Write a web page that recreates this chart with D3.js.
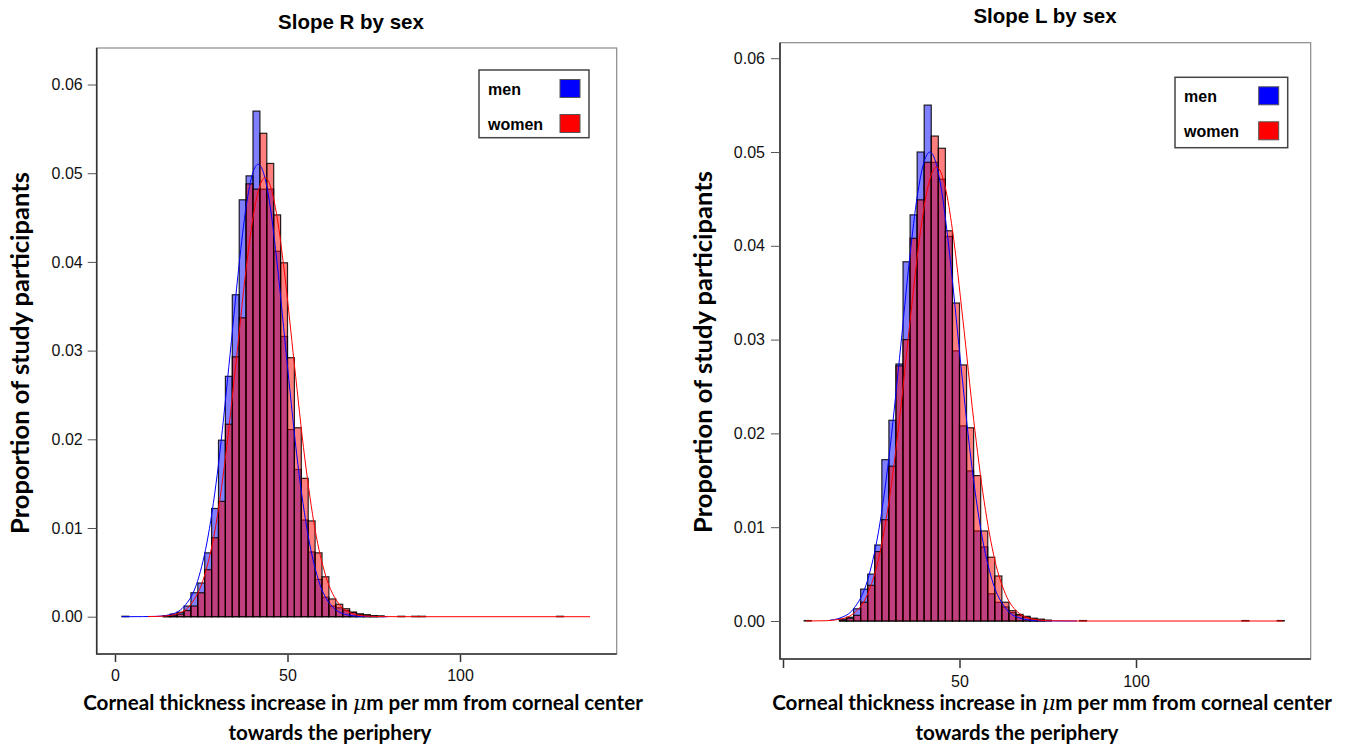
<!DOCTYPE html>
<html>
<head>
<meta charset="utf-8">
<script src="https://cdn.jsdelivr.net/npm/d3@7"></script>
<style>
  body { margin: 0; background: #fff; }
  svg { display: block; }
</style>
</head>
<body>
<div id="chart"></div>
<script>
// histogram bins are 2 units wide, values are proportions per bin
const binWidth = 2;

// Slope R (left panel)
const menRBins = [2, 14, 16, 18, 20, 22, 24, 26, 28, 30, 32, 34, 36, 38, 40, 42, 44, 46, 48, 50, 52, 54, 56, 58, 60, 62, 64, 66, 68, 70, 72, 74, 76];
const menR = [0.00005, 0.0001, 0.0003, 0.0005, 0.0012, 0.0027, 0.0038, 0.0072, 0.0122, 0.0199, 0.0271, 0.0363, 0.0470, 0.0497, 0.0570, 0.0482, 0.0482, 0.0412, 0.0316, 0.0211, 0.0166, 0.0109, 0.0073, 0.0042, 0.0022, 0.0012, 0.0010, 0.0007, 0.0005, 0.0003, 0.0002, 0.0001, 0.0001];
const womenRBins = [14, 16, 18, 20, 22, 24, 26, 28, 30, 32, 34, 36, 38, 40, 42, 44, 46, 48, 50, 52, 54, 56, 58, 60, 62, 64, 66, 68, 70, 72, 74, 82, 86, 88, 128];
const womenR = [0.00005, 0.0001, 0.0003, 0.0007, 0.0012, 0.0027, 0.0053, 0.0089, 0.0130, 0.0217, 0.0293, 0.0337, 0.0488, 0.0482, 0.0545, 0.0511, 0.0453, 0.0399, 0.0292, 0.0213, 0.0156, 0.0108, 0.0072, 0.0045, 0.0020, 0.0014, 0.0009, 0.0005, 0.0003, 0.0002, 0.0001, 0.00005, 0.00005, 0.00005, 0.00005];

// fitted curves
const menRCurveX = [2, 8, 12, 16, 20, 24, 27, 30, 33, 36, 38, 40, 41.5, 43, 45, 47, 50, 53, 56, 59, 63, 67, 71, 75, 79];
const menRCurveY = [0, 0.00001, 0.00004, 0.00024, 0.00114, 0.0041, 0.0091, 0.0172, 0.0282, 0.0398, 0.0462, 0.0501, 0.0510, 0.0501, 0.0462, 0.0398, 0.0282, 0.0172, 0.0091, 0.0041, 0.00114, 0.00024, 0.00004, 0.00001, 0];
const womenRCurveX = [9.6, 14, 18, 22, 26, 29, 32, 35, 38, 40, 42, 43.5, 45, 47, 49, 52, 55, 58, 61, 65, 69, 73, 78, 90, 137.7];
const womenRCurveY = [0.00001, 0.00006, 0.00033, 0.0014, 0.0047, 0.0098, 0.0179, 0.0284, 0.0392, 0.0450, 0.0486, 0.0495, 0.0486, 0.0450, 0.0392, 0.0284, 0.0179, 0.0098, 0.0047, 0.0014, 0.00033, 0.00006, 0.00001, 0, 0];

// Slope L (right panel)
const menLBins = [16, 18, 20, 22, 24, 26, 28, 30, 32, 34, 36, 38, 40, 42, 44, 46, 48, 50, 52, 54, 56, 58, 60, 62, 64, 66, 68, 70, 72, 84];
const menL = [0.0002, 0.0004, 0.0013, 0.0034, 0.0050, 0.0081, 0.0172, 0.0214, 0.0274, 0.0383, 0.0433, 0.0500, 0.0550, 0.0489, 0.0471, 0.0410, 0.0288, 0.0208, 0.0160, 0.0096, 0.0079, 0.0029, 0.0020, 0.0015, 0.0009, 0.0006, 0.0004, 0.0002, 0.0001, 0.00005];
const womenLBins = [6, 16, 18, 20, 22, 24, 26, 28, 30, 32, 34, 36, 38, 40, 42, 44, 46, 48, 50, 52, 54, 56, 58, 60, 62, 64, 66, 68, 70, 72, 74, 130, 140];
const womenL = [0.00005, 0.0001, 0.0003, 0.0006, 0.0020, 0.0038, 0.0074, 0.0108, 0.0165, 0.0272, 0.0300, 0.0408, 0.0449, 0.0489, 0.0517, 0.0504, 0.0416, 0.0339, 0.0273, 0.0206, 0.0155, 0.0096, 0.0068, 0.0048, 0.0020, 0.0011, 0.0007, 0.0005, 0.0003, 0.0002, 0.0001, 0.00005, 0.00005];

const menLCurveX = [13.3, 16, 20, 24, 27, 30, 33, 36, 38, 40, 41.6, 43.2, 45.2, 47.2, 50.2, 53.2, 56.2, 59.2, 63.2, 67.2, 72, 78, 83.3];
const menLCurveY = [0.00009, 0.0003, 0.0013, 0.0044, 0.0094, 0.0174, 0.0280, 0.0391, 0.0452, 0.0490, 0.0500, 0.0490, 0.0452, 0.0391, 0.0280, 0.0174, 0.0094, 0.0044, 0.0013, 0.0003, 0.00003, 0, 0];
const womenLCurveX = [6.5, 12, 16, 20, 24, 27, 30, 33, 36, 39, 41, 43.5, 46, 48, 51, 54, 57, 60, 63, 67, 71, 75, 85, 141.6];
const womenLCurveY = [0, 0.00003, 0.00018, 0.0008, 0.0029, 0.0065, 0.0127, 0.0215, 0.0320, 0.0417, 0.0462, 0.0484, 0.0462, 0.0417, 0.0320, 0.0215, 0.0127, 0.0065, 0.0029, 0.0008, 0.00018, 0.00003, 0, 0];

const yTicks = [0, 0.01, 0.02, 0.03, 0.04, 0.05, 0.06];
const xTicks = [0, 50, 100];
const legendLabels = ["men", "women"];
const seriesColors = ["#0000ff", "#ff0000"];

const width = 1347, height = 744;
const svg = d3.select("#chart").append("svg")
  .attr("width", width)
  .attr("height", height);

const tickFont = "'Liberation Sans', Arial, sans-serif";
const titleFont = "Lato, 'Open Sans', sans-serif";

function drawPanel(p) {
  const x = d3.scaleLinear().domain([0, 100]).range(p.xRange);
  const y = d3.scaleLinear().domain([0, 0.06]).range(p.yRange);
  const g = svg.append("g");

  // frame
  g.append("rect")
    .attr("x", p.box[0]).attr("y", p.box[1])
    .attr("width", p.box[2] - p.box[0]).attr("height", p.box[3] - p.box[1])
    .attr("fill", "none").attr("stroke", "#8a8a8a").attr("stroke-width", 1.2);
  g.append("path")
    .attr("d", `M${p.box[0]},${p.box[1]}V${p.box[3]}H${p.box[2]}`)
    .attr("fill", "none").attr("stroke", "#333").attr("stroke-width", 1.6);

  // bars: men first, women on top
  const series = [
    { bins: p.menBins, vals: p.men, fill: "rgba(0,0,255,0.5)" },
    { bins: p.womenBins, vals: p.women, fill: "rgba(255,0,0,0.5)" },
  ];
  series.forEach((s) => {
    g.append("g").selectAll("rect")
      .data(s.bins.map((b, i) => ({ b, v: s.vals[i] })))
      .enter().append("rect")
      .attr("x", (d) => x(d.b))
      .attr("width", (d) => x(d.b + binWidth) - x(d.b))
      .attr("y", (d) => y(d.v))
      .attr("height", (d) => y(0) - y(d.v))
      .attr("fill", s.fill)
      .attr("stroke", "rgba(0,0,0,0.85)")
      .attr("stroke-width", 1.2);
  });

  // fitted curves
  const line = d3.line()
    .x((d) => x(d[0]))
    .y((d) => y(d[1]))
    .curve(d3.curveMonotoneX);
  [[p.menCX, p.menCY, seriesColors[0]], [p.womenCX, p.womenCY, seriesColors[1]]].forEach(([cx, cy, col]) => {
    g.append("path")
      .datum(cx.map((v, i) => [v, cy[i]]))
      .attr("d", line)
      .attr("fill", "none")
      .attr("stroke", col)
      .attr("stroke-width", 1);
  });

  // y axis
  const yAxis = g.append("g")
    .attr("transform", `translate(${p.box[0]},0)`)
    .call(d3.axisLeft(y).tickValues(yTicks).tickFormat(d3.format(".2f")).tickSize(9).tickPadding(p.yPad));
  yAxis.select(".domain").remove();
  yAxis.selectAll("line").attr("stroke", "#555");
  yAxis.selectAll("text").attr("font-family", tickFont).attr("font-size", 16).attr("fill", "#111");

  // x axis
  const xAxis = g.append("g")
    .attr("transform", `translate(0,${p.box[3] + 1})`)
    .call(d3.axisBottom(x).tickValues(xTicks).tickFormat((d) => (p.hideZero && d === 0 ? "" : d)).tickSize(p.xTickSize).tickPadding(8));
  xAxis.select(".domain").remove();
  xAxis.selectAll("line").attr("stroke", "#333").attr("stroke-width", 1.5);
  xAxis.selectAll("text").attr("font-family", tickFont).attr("font-size", 16).attr("fill", "#111");

  // title
  g.append("text")
    .attr("x", p.titleX).attr("y", p.titleY)
    .attr("text-anchor", "middle")
    .attr("font-family", tickFont).attr("font-weight", "bold").attr("font-size", 20.5)
    .text(p.title);

  // y label
  g.append("text")
    .attr("transform", `translate(${p.yLabelX},${p.yLabelY}) rotate(-90)`)
    .attr("text-anchor", "middle")
    .attr("font-family", titleFont).attr("font-weight", "bold").attr("font-size", 25.5)
    .text("Proportion of study participants");

  // x label (two lines)
  const l1 = g.append("text")
    .attr("x", p.xLab1X).attr("y", 710)
    .attr("text-anchor", "middle")
    .attr("font-family", titleFont).attr("font-weight", "bold").attr("font-size", 20.6);
  l1.append("tspan").text("Corneal thickness increase in ");
  l1.append("tspan").attr("font-style", "italic").attr("font-family", "'DejaVu Serif', serif").attr("font-weight", "normal").text("\u03bc");
  l1.append("tspan").text("m per mm from corneal center");
  g.append("text")
    .attr("x", p.xLab2X).attr("y", 740)
    .attr("text-anchor", "middle")
    .attr("font-family", titleFont).attr("font-weight", "bold").attr("font-size", 20.6)
    .text("towards the periphery");

  // legend
  const lg = p.legend;
  g.append("rect")
    .attr("x", lg[0]).attr("y", lg[1])
    .attr("width", lg[2] - lg[0]).attr("height", lg[3] - lg[1])
    .attr("fill", "#fff").attr("stroke", "#444").attr("stroke-width", 1.5);
  legendLabels.forEach((lab, i) => {
    const cy = lg[1] + 18.5 + i * 35;
    g.append("text")
      .attr("x", lg[0] + 9).attr("y", cy + 6)
      .attr("font-family", tickFont).attr("font-weight", "bold").attr("font-size", 16)
      .text(lab);
    g.append("rect")
      .attr("x", lg[2] - 29).attr("y", cy - 9)
      .attr("width", 20).attr("height", 18)
      .attr("fill", seriesColors[i]).attr("stroke", "#555").attr("stroke-width", 1);
  });
}

drawPanel({
  title: "Slope R by sex", titleX: 351, titleY: 29,
  xRange: [115, 460], yRange: [616.7, 84.5],
  box: [96.7, 48, 616.7, 654],
  yPad: 5, xTickSize: 7, hideZero: false,
  yLabelX: 29, yLabelY: 353,
  xLab1X: 363, xLab2X: 330,
  legend: [479, 70, 589, 137.7],
  menBins: menRBins, men: menR, womenBins: womenRBins, women: womenR,
  menCX: menRCurveX, menCY: menRCurveY, womenCX: womenRCurveX, womenCY: womenRCurveY,
});

drawPanel({
  title: "Slope L by sex", titleX: 1045, titleY: 23,
  xRange: [783, 1136], yRange: [621, 58.2],
  box: [780, 42.7, 1310.7, 659],
  yPad: 6, xTickSize: 8, hideZero: true,
  yLabelX: 712, yLabelY: 352,
  xLab1X: 1052, xLab2X: 1017,
  legend: [1175, 77.3, 1287.7, 147.7],
  menBins: menLBins, men: menL, womenBins: womenLBins, women: womenL,
  menCX: menLCurveX, menCY: menLCurveY, womenCX: womenLCurveX, womenCY: womenLCurveY,
});
</script>
</body>
</html>
